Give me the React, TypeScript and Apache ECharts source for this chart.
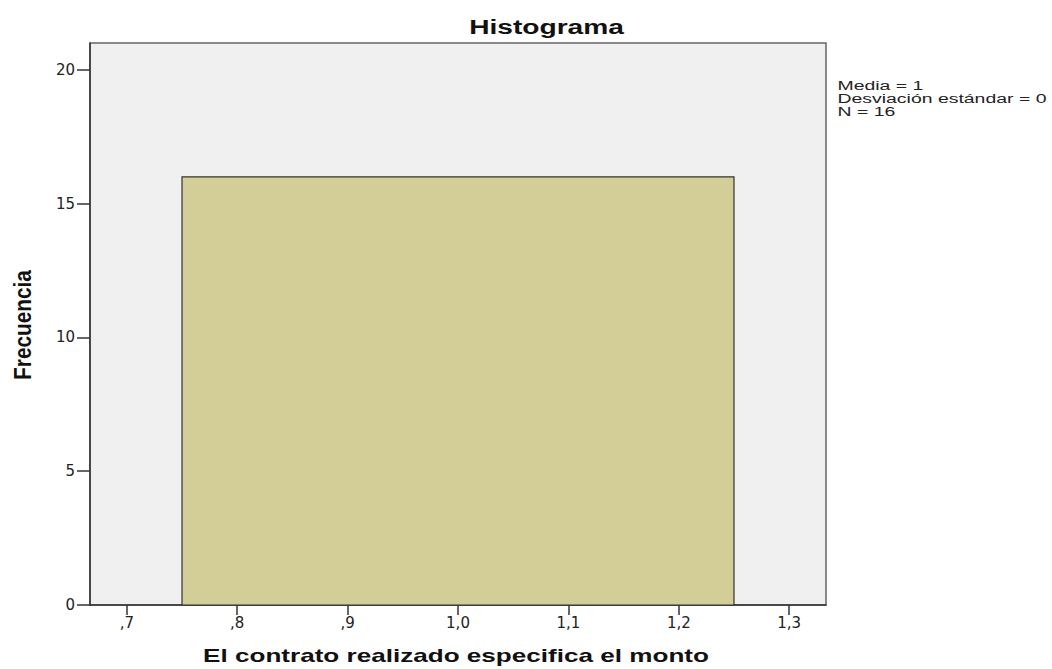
import React, { useEffect, useRef } from "react";
import * as echarts from "echarts";

const binStarts = [0.75];
const binEnds = [1.25];
const frequencies = [16];
const xTickValues = [0.7, 0.8, 0.9, 1.0, 1.1, 1.2, 1.3];
const yTickValues = [0, 5, 10, 15, 20];
const xRange = [2 / 3, 4 / 3];
const yRange = [0, 21];
const titleText = "Histograma";
const xAxisTitle = "El contrato realizado especifica el monto";
const yAxisTitle = "Frecuencia";
const statsLines = ["Media = 1", "Desviación estándar = 0", "N = 16"];

const FONT = '"Liberation Sans", Arial, sans-serif';

export default function App() {
  const ref = useRef<HTMLDivElement>(null);

  useEffect(() => {
    if (!ref.current) return;
    const chart = echarts.init(ref.current, undefined, { renderer: "svg" });
    const data = binStarts.map((s, i) => [s, binEnds[i], frequencies[i]]);
    const fmt = (v: number) => v.toFixed(1).replace(".", ",").replace(/^0/, "");

    const option: any = {
      animation: false,
      backgroundColor: "#ffffff",
      grid: {
        left: 90,
        right: 226,
        top: 43,
        bottom: 64,
        show: true,
        backgroundColor: "#f0f0f0",
        borderColor: "#666666",
        borderWidth: 1.5,
      },
      xAxis: {
        type: "value",
        min: xRange[0],
        max: xRange[1],
        splitLine: { show: false },
        axisLine: { show: true, onZero: false, lineStyle: { color: "#333333", width: 1.5 } },
        axisTick: {
          show: true,
          length: 10,
          customValues: xTickValues,
          lineStyle: { color: "#333333", width: 1.5 },
        },
        axisLabel: {
          customValues: xTickValues,
          formatter: (v: number) => fmt(v),
          margin: 10,
          color: "#222222",
          fontSize: 15,
          fontFamily: '"DejaVu Sans", sans-serif',
        },
      },
      yAxis: {
        type: "value",
        min: yRange[0],
        max: yRange[1],
        splitLine: { show: false },
        axisLine: { show: true, lineStyle: { color: "#333333", width: 1.5 } },
        axisTick: {
          show: true,
          length: 13,
          customValues: yTickValues,
          lineStyle: { color: "#333333", width: 1.5 },
        },
        axisLabel: {
          customValues: yTickValues,
          margin: 15,
          color: "#222222",
          fontSize: 15,
          fontFamily: '"DejaVu Sans", sans-serif',
        },
      },
      series: [
        {
          type: "custom",
          data,
          encode: { x: [0, 1], y: 2 },
          renderItem: (params: any, api: any) => {
            const p0 = api.coord([api.value(0), 0]);
            const p1 = api.coord([api.value(1), api.value(2)]);
            return {
              type: "rect",
              shape: { x: p0[0], y: p1[1], width: p1[0] - p0[0], height: p0[1] - p1[1] },
              style: { fill: "#d3ce98", stroke: "#333333", lineWidth: 1.2 },
            };
          },
        },
      ],
      graphic: [
        {
          type: "text",
          x: 546.5,
          y: 27,
          scaleX: 1.34,
          style: {
            text: titleText,
            fontSize: 21,
            fontWeight: "bold",
            fontFamily: FONT,
            fill: "#111111",
            align: "center",
            verticalAlign: "middle",
            textAlign: "center",
            textVerticalAlign: "middle",
          },
        },
        {
          type: "text",
          x: 456,
          y: 655.5,
          scaleX: 1.45,
          style: {
            text: xAxisTitle,
            fontSize: 18,
            fontWeight: "bold",
            fontFamily: FONT,
            fill: "#111111",
            align: "center",
            verticalAlign: "middle",
            textAlign: "center",
            textVerticalAlign: "middle",
          },
        },
        {
          type: "text",
          x: 23.5,
          y: 325,
          rotation: Math.PI / 2,
          scaleY: 1.12,
          style: {
            text: yAxisTitle,
            fontSize: 20.8,
            fontWeight: "bold",
            fontFamily: FONT,
            fill: "#111111",
            align: "center",
            verticalAlign: "middle",
            textAlign: "center",
            textVerticalAlign: "middle",
          },
        },
        ...statsLines.map((line, i) => ({
          type: "text",
          x: 837.5,
          y: 85.3 + i * 13,
          scaleX: 1.62,
          style: {
            text: line,
            fontSize: 12,
            fontFamily: FONT,
            fill: "#222222",
            align: "left",
            verticalAlign: "middle",
            textAlign: "left",
            textVerticalAlign: "middle",
          },
        })),
      ],
    };

    chart.setOption(option);
    return () => chart.dispose();
  }, []);

  return (
    <div
      ref={ref}
      style={{ position: "fixed", left: 0, top: 0, width: 1052, height: 669 }}
    />
  );
}
